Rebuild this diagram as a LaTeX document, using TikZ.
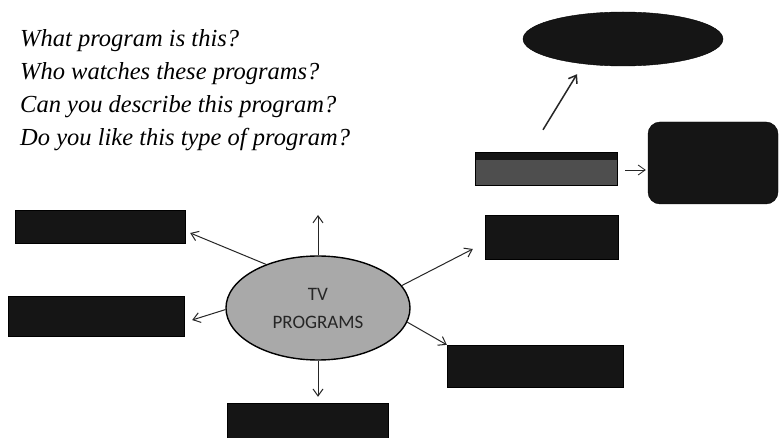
\documentclass[tikz,border=0pt]{standalone}
\usepackage{fontspec}
\setmainfont{Liberation Serif}
\newfontfamily\carl{Carlito}
\usetikzlibrary{shapes.geometric,arrows.meta,calc}
\definecolor{boxblack}{HTML}{151515}
\definecolor{ellgray}{HTML}{A9A9A9}
\definecolor{midgray}{HTML}{4E4E4E}
\tikzset{
  qtext/.style={anchor=base west,inner sep=0pt,font=\fontsize{24.5}{28}\selectfont\itshape},
  blackbox/.style={rectangle,draw=black,fill=boxblack,inner sep=0pt},
  arr/.style={-{Straight Barb[length=7pt,width=10pt]},line width=1pt,black!85},
}
\begin{document}
\begin{tikzpicture}[x=1pt,y=-1pt]
\useasboundingbox[fill=white] (0,0) rectangle (780,438);

% questions
\node[qtext] (q1) at (20,47) {What program is this?};
\node[qtext] (q2) at (20,80) {Who watches these programs?};
\node[qtext] (q3) at (20,113) {Can you describe this program?};
\node[qtext] (q4) at (20,146) {Do you like this type of program?};

% centre ellipse
\node[ellipse,draw=black,line width=1.4pt,fill=ellgray,minimum width=184pt,minimum height=104pt,inner sep=0pt,
      align=center,font=\carl\fontsize{19}{28}\selectfont,text=black!85] (c) at (318,308) {TV\\PROGRAMS};

% boxes
\node[blackbox,minimum width=170pt,minimum height=33pt] (lt) at (100,226.5) {};
\node[blackbox,minimum width=176pt,minimum height=40pt] (l2) at (96,316) {};
\node[blackbox,minimum width=161pt,minimum height=36pt] (b) at (307.5,421) {};
\node[blackbox,minimum width=133pt,minimum height=44pt] (rm) at (551.5,237) {};
\node[blackbox,minimum width=176pt,minimum height=42pt] (rb) at (535,366) {};
\node[rectangle,draw=black,fill=midgray,inner sep=0pt,minimum width=142pt,minimum height=33pt,
      path picture={\fill[boxblack] (path picture bounding box.north west) rectangle ([yshift=-8pt]path picture bounding box.north east);}] (gb) at (546,168.5) {};
\node[rectangle,rounded corners=12pt,draw=black,fill=boxblack,minimum width=130pt,minimum height=82pt,inner sep=0pt] (rr) at (713,163) {};
\node[ellipse,draw=black,fill=boxblack,minimum width=200pt,minimum height=54pt,inner sep=0pt] (de) at (623,39) {};

% connectors
\coordinate (upend) at (318,215);
\draw[arr] (c.north) -- (upend);
\draw[arr] (c.south) -- ($(b.north)+(10.5,-6)$);
\draw[arr] (c.140) -- ($(lt.east)+(5,6.5)$);
\draw[arr] (c.181) -- ($(l2.east)+(8,4)$);
\draw[arr] (c.15) -- ($(rm.west)+(-12,12)$);
\draw[arr] (c.-9) -- (rb.north west);
\draw[arr,line width=1.5pt] ($(gb.north)+(-3,-22)$) -- ($(de.south)+(-46,8)$);
\draw[arr,line width=0.8pt] ($(gb.east)+(8,1.5)$) -- ($(rr.west)+(-2,7)$);
\end{tikzpicture}
\end{document}
